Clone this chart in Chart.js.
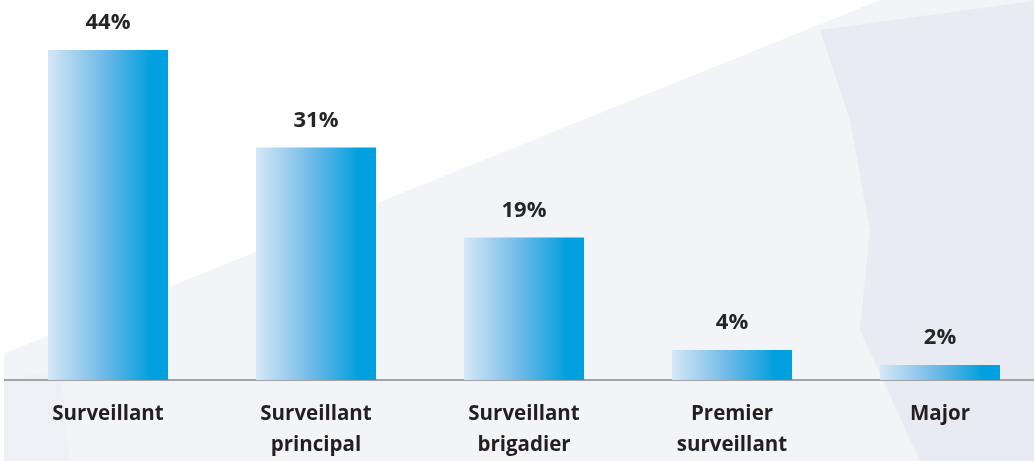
<!DOCTYPE html>
<html>
<head>
<meta charset="utf-8">
<script src="https://cdn.jsdelivr.net/npm/chart.js@4"></script>
<style>
  html, body { margin: 0; padding: 0; background: #fff; overflow: hidden; }
  #wrap { position: absolute; left: 4px; top: 0; width: 1040px; height: 461px; }
</style>
</head>
<body>
<div id="wrap"><canvas id="chart"></canvas></div>
<script>
const categories = [
    'Surveillant',
    ['Surveillant', 'principal'],
    ['Surveillant', 'brigadier'],
    ['Premier', 'surveillant'],
    'Major'
];
const shares = [44, 31, 19, 4, 2];
const barPct = 0.577;

// faint background picture: light panel below the diagonal
const backdrop = {
    id: 'backdrop',
    beforeDraw(chart) {
        const c = chart.ctx;
        const ox = -4; // canvas starts 4px right of window
        c.save();
        c.fillStyle = '#f3f4f8';
        c.beginPath();
        c.moveTo(ox + 0, 355);
        c.lineTo(ox + 880, 0);
        c.lineTo(ox + 1040, 0);
        c.lineTo(ox + 1040, 461);
        c.lineTo(ox + 0, 461);
        c.closePath();
        c.fill();
        // darker shapes on the right
        c.fillStyle = '#e9ebf2';
        c.beginPath();
        c.moveTo(ox + 820, 30);
        c.lineTo(ox + 1040, 0);
        c.lineTo(ox + 1040, 461);
        c.lineTo(ox + 920, 461);
        c.lineTo(ox + 860, 330);
        c.lineTo(ox + 870, 230);
        c.lineTo(ox + 850, 120);
        c.closePath();
        c.fill();
        c.fillStyle = '#eef0f5';
        c.beginPath();
        c.moveTo(ox + 0, 380);
        c.lineTo(ox + 60, 370);
        c.lineTo(ox + 70, 461);
        c.lineTo(ox + 0, 461);
        c.closePath();
        c.fill();
        c.restore();
    }
};

// percentage labels above bars
const valueLabels = {
    id: 'valueLabels',
    afterDatasetsDraw(chart) {
        const c = chart.ctx;
        const meta = chart.getDatasetMeta(0);
        c.save();
        c.font = 'bold 22px "Open Sans"';
        c.fillStyle = '#262626';
        c.textAlign = 'center';
        c.textBaseline = 'middle';
        meta.data.forEach((bar, i) => {
            c.fillText(shares[i] + '%', bar.x, bar.y - 27);
        });
        c.restore();
    }
};

function barGradient(ctx) {
    const chart = ctx.chart;
    const xs = chart.scales.x;
    if (!xs || !chart.chartArea) return '#00a0e0';
    const cx = xs.getPixelForValue(ctx.dataIndex);
    const half = (xs.width / categories.length) * barPct / 2;
    const g = chart.ctx.createLinearGradient(cx - half, 0, cx + half, 0);
    g.addColorStop(0, '#d5e7f6');
    g.addColorStop(0.45, '#72bbe8');
    g.addColorStop(0.85, '#04a0df');
    g.addColorStop(1, '#00a0e0');
    return g;
}

new Chart(document.getElementById('chart'), {
    type: 'bar',
    data: {
        labels: categories,
        datasets: [{
            data: shares,
            backgroundColor: barGradient,
            borderWidth: 0,
            barPercentage: barPct,
            categoryPercentage: 1
        }]
    },
    options: {
        responsive: true,
        maintainAspectRatio: false,
        animation: false,
        layout: { padding: { top: 5 } },
        plugins: {
            legend: { display: false },
            tooltip: { enabled: false }
        },
        scales: {
            x: {
                grid: { display: false, drawTicks: false },
                border: { display: true, color: '#a3a3a6', width: 2 },
                afterFit(scale) { scale.height = 81; },
                ticks: {
                    color: '#231f20',
                    padding: 19,
                    font: { family: 'Open Sans', size: 20.5, weight: 'bold', lineHeight: 1.5 },
                    maxRotation: 0,
                    autoSkip: false
                }
            },
            y: {
                display: false,
                min: 0,
                max: 50
            }
        }
    },
    plugins: [backdrop, valueLabels]
});
</script>
</body>
</html>
